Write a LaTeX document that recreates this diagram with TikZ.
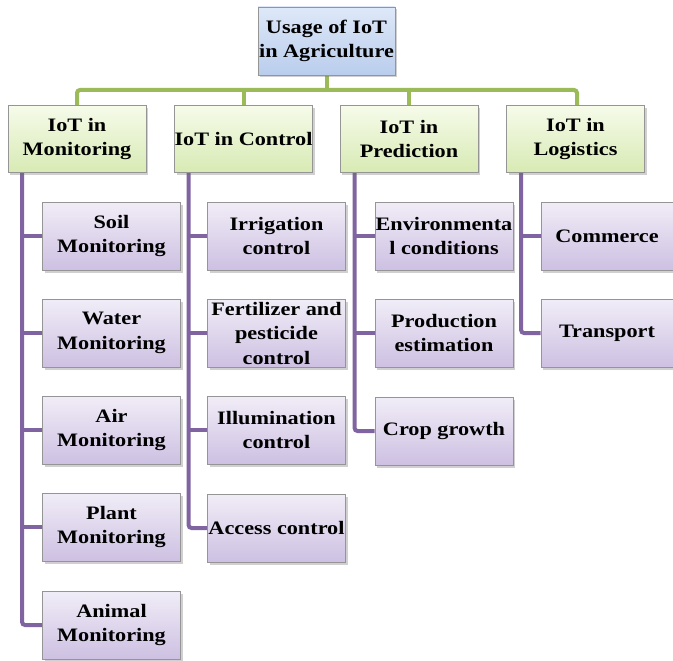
\documentclass[tikz,border=0pt]{standalone}
\usepackage{fontspec}
\setmainfont{Liberation Serif}[FakeStretch=1.17]
\usetikzlibrary{shadows,backgrounds}
\definecolor{gline}{HTML}{9BBB59}
\definecolor{pline}{HTML}{8064A2}
\definecolor{bdr}{HTML}{959595}
\tikzset{
  base/.style={draw=bdr, line width=0.9pt, inner sep=0pt, align=center,
    font=\fontsize{19}{24.5}\selectfont\bfseries,
    drop shadow={shadow xshift=2pt, shadow yshift=-2.5pt, opacity=0.3, fill=black!60}},
  topbox/.style={base, minimum width=137pt, minimum height=68pt, top color={rgb,255:red,222;green,232;blue,248}, bottom color={rgb,255:red,185;green,205;blue,236}},
  catbox/.style={base, minimum width=138pt, minimum height=67pt, top color={rgb,255:red,246;green,251;blue,234}, bottom color={rgb,255:red,216;green,234;blue,180}},
  leafbox/.style={base, minimum width=138pt, minimum height=68pt, top color={rgb,255:red,241;green,237;blue,247}, bottom color={rgb,255:red,205;green,192;blue,226}},
  gconn/.style={draw=gline, line width=4pt, rounded corners=3pt},
  pconn/.style={draw=pline, line width=4pt, rounded corners=3pt},
}
\begin{document}
\begin{tikzpicture}[x=1pt,y=-1pt]
\useasboundingbox (0,0) rectangle (673,661);
% top
\node[topbox] (top) at (326.5,41) {Usage of IoT\\in Agriculture};
% categories
\node[catbox] (mon) at (77,139) {IoT in\\Monitoring};
\node[catbox] (ctl) at (243.5,139) {IoT in Control};
\node[catbox] (pre) at (409,139) {IoT in\\Prediction};
\node[catbox] (log) at (575.5,139) {IoT in\\Logistics};
% monitoring leaves
\node[leafbox] (soil) at (111.5,236) {Soil\\Monitoring};
\node[leafbox] (water) at (111.5,333) {Water\\Monitoring};
\node[leafbox] (air) at (111.5,430) {Air\\Monitoring};
\node[leafbox] (plant) at (111.5,527) {Plant\\Monitoring};
\node[leafbox] (animal) at (111.5,625) {Animal\\Monitoring};
% control leaves
\node[leafbox] (irr) at (276.5,236) {Irrigation\\control};
\node[leafbox] (fert) at (276.5,333) {Fertilizer and\\pesticide\\control};
\node[leafbox] (illu) at (276.5,430) {Illumination\\control};
\node[leafbox] (acc) at (276.5,528) {Access control};
% prediction leaves
\node[leafbox] (env) at (444,236) {Environmenta\\l conditions};
\node[leafbox] (prod) at (444,333) {Production\\estimation};
\node[leafbox] (crop) at (444,431) {Crop growth};
% logistics leaves
\node[leafbox, minimum width=132pt] (com) at (607,236) {Commerce};
\node[leafbox, minimum width=132pt] (tra) at (607,333) {Transport};
\begin{scope}[on background layer]
  \fill[white] (0,0) rectangle (673,661);
  \coordinate (bar) at (326.5,90);
  \draw[gconn] (mon.north) |- (bar) -| ([xshift=1.5pt]log.north);
  \draw[gconn] (top.south) -- (bar);
  \draw[gconn] (ctl.north) -- (ctl.north |- bar);
  \draw[gconn] (pre.north) -- (pre.north |- bar);
  % trunks
  \coordinate (mt) at ([xshift=14.5pt]mon.south west);
  \coordinate (ct) at ([xshift=14.5pt]ctl.south west);
  \coordinate (pt) at ([xshift=15pt]pre.south west);
  \coordinate (lt) at ([xshift=15pt]log.south west);
  \draw[pconn] (mt) |- (animal.west);
  \foreach \n in {soil,water,air,plant} \draw[pconn] (\n.west) -- (\n.west -| mt);
  \draw[pconn] (ct) |- (acc.west);
  \foreach \n in {irr,fert,illu} \draw[pconn] (\n.west) -- (\n.west -| ct);
  \draw[pconn] (pt) |- (crop.west);
  \foreach \n in {env,prod} \draw[pconn] (\n.west) -- (\n.west -| pt);
  \draw[pconn] (lt) |- (tra.west);
  \draw[pconn] (com.west) -- (com.west -| lt);
\end{scope}
\end{tikzpicture}
\end{document}
